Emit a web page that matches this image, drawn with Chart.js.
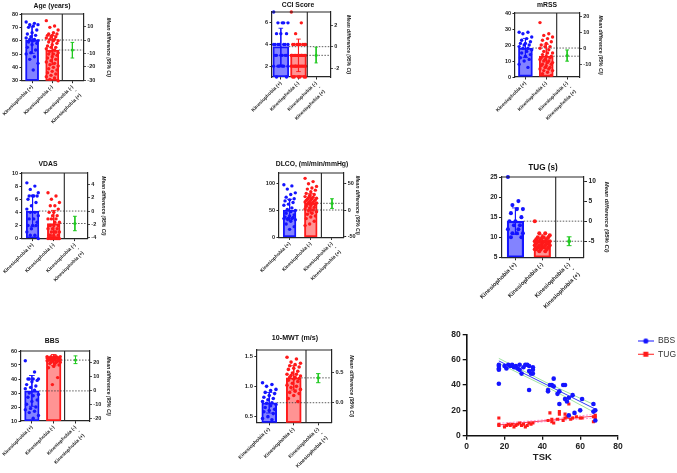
<!DOCTYPE html>
<html>
<head>
<meta charset="utf-8">
<script src="https://cdn.jsdelivr.net/npm/chart.js@4.4.1/dist/chart.umd.min.js"></script>
<style>
  body { margin:0; width:677px; height:473px; overflow:hidden; background:#fff; position:relative;
         font-family:'Liberation Sans', Arial, sans-serif; }
  canvas { position:absolute; }
  .ttl { position:absolute; transform:translate(-50%,-50%); font-weight:bold; white-space:nowrap; color:#111;
         will-change:transform; }
</style>
</head>
<body>
<script>
// ---- data ----
const groupLabels = ['Kinesiophobia (+)', 'Kinesiophobia (-)', ['Kinesiophobia (-)', '-', 'Kinesiophobia (+)']];

// Age (years)
const agePos = [74,73,72,72,71,70,68,66,65,64,63,62,61,61,60,60,59,58,57,55,53,51,50,48,46,43,38];
const ageNeg = [75,71,70,68,66,65,65,64,64,63,63,62,61,61,60,60,59,58,57,56,55,55,54,53,52,51,50,50,49,48,47,46,45,44,43,42,41,40,39,38,37,36,35,34,33,32,31,30];
const ageMean = [60.5, 53];
const ageSD = [10, 11];
const ageDiff = [-7.5, -13.5, -1.8];   // estimate, lower, upper
const ageTicks = [30,40,50,60,70,80];
const ageDiffTicks = [10,0,-10,-20,-30];

// CCI Score
const cciPos = [7,6,6,6,6,5,5,5,4,4,4,4,4,4,4,3,3,3,3,3,3,2,2,2,2,2,2,1,1];
const cciNeg = [7,6,5,4,4,4,4,4,4,4,4,3,3,3,3,3,3,3,3,3,3,3,3,3,2,2,2,2,2,2,2,2,2,2,2,2,1,1,1,1,1,1];
const cciMean = [3.8, 3.0];
const cciSD = [1.7, 1.5];
const cciDiff = [-0.8, -1.5, -0.05];
const cciTicks = [2,4,6];
const cciDiffTicks = [2,0,-2];

// mRSS
const mrssPos = [28,28,27,25,24,23,22,21,21,20,20,19,18,18,17,16,15,14,13,12,11,10,8,6];
const mrssNeg = [34,27,26,25,24,23,22,21,20,19,19,18,17,16,15,15,14,13,13,12,12,11,11,10,10,9,9,8,8,7,7,6,6,5,5,4,4,3,2,1];
const mrssMean = [18.1, 13];
const mrssSD = [6, 7.5];
const mrssDiff = [-4.7, -8.2, -1.2];
const mrssTicks = [0,10,20,30,40];
const mrssDiffTicks = [20,10,0,-10];

// VDAS
const vdasPos = [8.5,8,7.5,7,6.5,6.5,6.5,6.5,6,5.5,5,4.5,4,4,3.5,3,3,2.5,2,2,2,1.5,1,0.5,0.5,0];
const vdasNeg = [7,6.5,6,5.5,5,5,4.5,4,4,3.5,3.5,3,3,3,2.5,2.5,2,2,2,2,1.5,1.5,1.5,1,1,1,1,0.5,0.5,0.5,0.5,0,0,0,0,0,0,0,0,0];
const vdasMean = [4.2, 2.3];
const vdasSD = [2.4, 2];
const vdasDiff = [-1.9, -3.0, -0.8];
const vdasTicks = [0,2,4,6,8,10];
const vdasDiffTicks = [4,2,0,-2,-4];

// DLCO
const dlcoPos = [98,96,90,83,80,75,72,70,68,65,62,60,55,52,50,48,45,42,40,38,37,36,35,35,34,33,30,25,20,15];
const dlcoNeg = [110,104,100,95,92,90,88,85,82,80,78,76,75,74,73,72,71,70,70,69,68,67,66,65,65,64,63,62,61,60,58,56,55,53,51,50,48,45,43,40,38,35,30,25,22];
const dlcoMean = [51, 63.5];
const dlcoSD = [20, 18];
const dlcoDiff = [12, 3, 21];
const dlcoTicks = [0,50,100];
const dlcoDiffTicks = [50,0,-50];

// TUG (s)
const tugPos = [25,19,18,17,17,16,15,14,14,13,13,12,12,11,11,11,10,10];
const tugNeg = [14,11,11,10.5,10,10,10,10,9.5,9.5,9.5,9,9,9,9,9,9,8.5,8.5,8.5,8.5,8,8,8,8,8,7.5,7.5,7.5,7.5,7,7,7,7,6.5,6.5];
const tugMean = [14, 9];
const tugSD = [3.3, 1.6];
const tugDiff = [-5, -6.1, -3.9];
const tugTicks = [5,10,15,20,25];
const tugDiffTicks = [10,5,0,-5];

// BBS
const bbsPos = [53,45,40,40,40,40,39,38,36,35,34,33,32,30,29,28,27,25,24,22,20,19,18,17,16,14,12];
const bbsNeg = [56,56,56,56,56,55,55,55,55,55,55,55,55,54,54,54,54,54,54,54,53,53,53,52,52,52,51,51,50,49,48,41,36];
const bbsMean = [31.5, 53.5];
const bbsSD = [11, 4];
const bbsDiff = [22, 19.5, 25];
const bbsTicks = [10,20,30,40,50,60];
const bbsDiffTicks = [20,10,0,-10,-20];

// 10-MWT (m/s)
const mwtPos = [1.06,1.03,1.0,0.95,0.93,0.9,0.88,0.85,0.82,0.8,0.78,0.75,0.73,0.72,0.7,0.68,0.65,0.62,0.6,0.58,0.55,0.5,0.47,0.45];
const mwtNeg = [1.48,1.45,1.4,1.38,1.36,1.34,1.32,1.3,1.28,1.25,1.22,1.2,1.2,1.18,1.17,1.15,1.15,1.13,1.12,1.1,1.08,1.05,1.02,1.0,0.98,0.95,0.92,0.9,0.88,0.85,0.8,0.75];
const mwtMean = [0.73, 1.14];
const mwtSD = [0.17, 0.2];
const mwtDiff = [0.41, 0.33, 0.48];
const mwtTicks = [0.5,1.0,1.5];
const mwtDiffTicks = [0.5,0.0];

// TSK correlation
const tskBBSx = [17,17,17,17,17,20,21,22,23,24,25,26,27,28,28,29,30,31,32,33,33,33,34,35,35,35,43,43,44,45,46,46,48,49,49,51,52,52,53,54,54,56,57,60,61,67,67,68,68];
const tskBBSy = [56,55,53,52,41,55,53,56,55,56,54,55,53,52,56,49,54,56,56,55,51,36,49,54,52,49,36,35,40,40,45,39,33,35,25,40,40,29,27,30,16,32,18,20,29,25,19,20,12];
const tskTUGx = [17,17,17,20,21,22,23,24,25,26,27,28,29,30,31,32,33,34,35,43,44,45,45,46,48,49,49,51,52,52,53,54,55,56,58,60,61,67,67,68,68];
const tskTUGy = [14,9,8,7,8,9,8,9,7,8,9,10,8,9,7,8,10,9,10,12,18,13,11,10,13,17,19,12,14,17,15,25,13,14,15,14,14,11,15,16,14];
const fitX = [17, 42, 68];
const bbsFit = [59, 40.4, 21];
const bbsBandHi = [61, 42, 24];
const bbsBandLo = [57, 38.8, 18];
const tugFit = [8.5, 11.9, 15.5];
const tugBandHi = [9.8, 12.6, 17];
const tugBandLo = [7.2, 11.2, 14];
const scatterTicks = [0,20,40,60,80];

// ---- styling / layout ----
Chart.defaults.font.family = "'Liberation Sans', Arial, sans-serif";
Chart.defaults.animation = false;
const BLUE = '#1414ff', RED = '#ff1a1a', GREEN = '#22c922', AXIS = '#262626';
const BLUE_FILL = 'rgba(30,30,255,0.55)', RED_FILL = 'rgba(255,40,40,0.5)';

// box = frame [left, top, right, bottom], div = x of the divider, bw = bar width / category width
const panels = [
  {title:'Age (years)', box:[21.7,14,83,80.7], div:62, bw:0.65, tx:52, ty:5, y2W:28, k:1,
   pos:agePos, neg:ageNeg, mean:ageMean, sd:ageSD, diff:ageDiff, ticks:ageTicks, dticks:ageDiffTicks, range:[30,80], dec:0},
  {title:'CCI Score', box:[271.7,11.7,330,76.7], div:307, bw:0.9, tx:298, ty:4, y2W:21, k:1,
   pos:cciPos, neg:cciNeg, mean:cciMean, sd:cciSD, diff:cciDiff, ticks:cciTicks, dticks:cciDiffTicks, range:[1,7], dec:0},
  {title:'mRSS', box:[515,13.3,579.3,77.3], div:556.7, bw:0.67, tx:547, ty:4, y2W:24, k:1,
   pos:mrssPos, neg:mrssNeg, mean:mrssMean, sd:mrssSD, diff:mrssDiff, ticks:mrssTicks, dticks:mrssDiffTicks, range:[0,40], dec:0},
  {title:'VDAS', box:[21.7,172.7,87,238.3], div:64, bw:0.6, tx:48, ty:163, y2W:19, k:1,
   pos:vdasPos, neg:vdasNeg, mean:vdasMean, sd:vdasSD, diff:vdasDiff, ticks:vdasTicks, dticks:vdasDiffTicks, range:[0,10], dec:0},
  {title:'DLCO, (ml/min/mmHg)', box:[279.3,173.3,344,237.7], div:321.7, bw:0.6, tx:312, ty:163, y2W:16, k:1,
   pos:dlcoPos, neg:dlcoNeg, mean:dlcoMean, sd:dlcoSD, diff:dlcoDiff, ticks:dlcoTicks, dticks:dlcoDiffTicks, range:[0,120], dec:0},
  {title:'TUG (s)', box:[502.3,176.7,584.3,257], div:556, bw:0.62, tx:543, ty:167, y2W:26, k:1.2,
   pos:tugPos, neg:tugNeg, mean:tugMean, sd:tugSD, diff:tugDiff, ticks:tugTicks, dticks:tugDiffTicks, range:[5,25], dec:0},
  {title:'BBS', box:[20.7,351,89,421], div:64.3, bw:0.67, tx:52, ty:340, y2W:22, k:1,
   pos:bbsPos, neg:bbsNeg, mean:bbsMean, sd:bbsSD, diff:bbsDiff, ticks:bbsTicks, dticks:bbsDiffTicks, range:[10,60], dec:0},
  {title:'10-MWT (m/s)', box:[256.7,350,331,422.7], div:305.7, bw:0.61, tx:295, ty:338, y2W:24, k:1.05,
   pos:mwtPos, neg:mwtNeg, mean:mwtMean, sd:mwtSD, diff:mwtDiff, ticks:mwtTicks, dticks:mwtDiffTicks, range:[0.4,1.6], dec:1},
];

// spread points sideways inside the bar, like a Prism scatter
function spread(vals, cx, half) {
  return vals.map((v, i) => ({x: cx + (((i * 7) % 11) - 5) / 5 * half, y: v}));
}
function errBar(cx, lo, hi, cap) {
  return [{x:cx-cap,y:hi},{x:cx+cap,y:hi},{x:cx,y:null},
          {x:cx,y:hi},{x:cx,y:lo},{x:cx,y:null},
          {x:cx-cap,y:lo},{x:cx+cap,y:lo}];
}

// top border + divider between the two sub-panels
const framePlugin = {
  id: 'frame',
  afterDatasetsDraw(chart) {
    const {ctx, chartArea: a, scales} = chart;
    const xd = scales.x.getPixelForValue(1.5);
    ctx.save();
    ctx.strokeStyle = AXIS; ctx.lineWidth = 1.1;
    ctx.beginPath();
    ctx.moveTo(a.left, a.top); ctx.lineTo(a.right, a.top);
    ctx.moveTo(xd, a.top); ctx.lineTo(xd, a.bottom);
    ctx.stroke();
    ctx.restore();
  }
};

function addTitle(text, x, y, size) {
  const d = document.createElement('div');
  d.className = 'ttl';
  d.textContent = text;
  d.style.left = x + 'px'; d.style.top = y + 'px'; d.style.fontSize = size + 'px';
  document.body.appendChild(d);
}

function drawPanel(p) {
  const padL = 16, padT = 4, yW = 18, xH = Math.round(44 * p.k);
  const [L, T, R, B] = p.box;
  const W = Math.round(R - L + yW + p.y2W + padL);
  const H = Math.round(B - T + padT + xH);
  const cv = document.createElement('canvas');
  cv.width = W; cv.height = H;
  cv.style.left = (L - yW - padL) + 'px';
  cv.style.top = (T - padT) + 'px';
  document.body.appendChild(cv);
  addTitle(p.title, p.tx, p.ty, 6.8 * p.k);

  const [m1, m2] = p.mean;
  const [lo, hi] = p.range;
  const k = p.k;
  const tickFont = {size: 5.5 * k, weight: 'bold'};
  const fmt = v => (p.dec ? Number(v).toFixed(p.dec) : v);
  // x range chosen so that 1.5 falls on the divider
  const xMax = -0.5 + 2 * (R - L) / (p.div - L);
  const catPx = (p.div - L) / 2;
  const halfBar = p.bw / 2;

  new Chart(cv, {
    type: 'bar',
    data: {
      datasets: [
        {type:'bar', data:[{x:0, y:[lo, m1]}, {x:1, y:[lo, m2]}],
         backgroundColor:[BLUE_FILL, RED_FILL], borderColor:[BLUE, RED], borderWidth:1.3*k,
         borderSkipped:false, barThickness:catPx * p.bw, order:6},
        {type:'line', data:[{x:halfBar,y:m1},{x:xMax,y:m1}],
         borderColor:'#333', borderWidth:0.8, borderDash:[1.5,1.5], pointRadius:0, order:5},
        {type:'line', data:[{x:1+halfBar,y:m2},{x:xMax,y:m2}],
         borderColor:'#333', borderWidth:0.8, borderDash:[1.5,1.5], pointRadius:0, order:5},
        {type:'scatter', data:spread(p.pos, 0, halfBar * 0.9),
         backgroundColor:BLUE, borderWidth:0, pointRadius:1.7*k, clip:false, order:3},
        {type:'scatter', data:spread(p.neg, 1, halfBar * 0.9),
         backgroundColor:RED, borderWidth:0, pointRadius:1.7*k, clip:false, order:3},
        {type:'line', data:errBar(0, m1 - p.sd[0], m1 + p.sd[0], 0.13),
         borderColor:BLUE, borderWidth:0.9, pointRadius:0, order:2},
        {type:'line', data:errBar(1, m2 - p.sd[1], m2 + p.sd[1], 0.13),
         borderColor:RED, borderWidth:0.9, pointRadius:0, order:2},
        {type:'line', yAxisID:'y2', data:errBar(2, p.diff[1], p.diff[2], 0.09),
         borderColor:GREEN, borderWidth:1, pointRadius:0, order:1},
        {type:'scatter', yAxisID:'y2', data:[{x:2, y:p.diff[0]}],
         backgroundColor:GREEN, borderWidth:0, pointRadius:1.6*k, order:1},
      ]
    },
    options: {
      responsive:false,
      events:[],
      layout:{padding:{left:padL, top:padT, right:0, bottom:0}},
      plugins:{legend:{display:false}, tooltip:{enabled:false}},
      scales:{
        x:{type:'linear', position:'bottom', min:-0.5, max:xMax, offset:false,
           afterBuildTicks:s => { s.ticks = [0,1,2].map(v => ({value:v})); },
           grid:{display:true, drawOnChartArea:false, offset:false, tickLength:2.5*k, color:AXIS, lineWidth:1},
           border:{display:true, color:AXIS, width:1.2},
           ticks:{maxRotation:45, minRotation:45, autoSkip:false, padding:1, color:'#222',
                  font:{size:4.8*k, weight:'bold'}, callback:v => groupLabels[v]},
           afterFit:s => { s.height = H - padT - (B - T); s.paddingLeft = 0; s.paddingRight = 0; }},
        y:{type:'linear', position:'left', min:lo, max:hi,
           afterBuildTicks:s => { s.ticks = p.ticks.map(v => ({value:v})); },
           grid:{display:true, drawOnChartArea:false, tickLength:2.5*k, color:AXIS, lineWidth:1},
           border:{display:true, color:AXIS, width:1.2},
           ticks:{font:tickFont, color:'#222', padding:1.5, callback:fmt},
           afterFit:s => { s.width = yW; s.paddingTop = 0; s.paddingBottom = 0; }},
        y2:{type:'linear', position:'right', min:lo - m1, max:hi - m1,
            afterBuildTicks:s => { s.ticks = p.dticks.map(v => ({value:v})); },
            grid:{display:true, drawOnChartArea:false, tickLength:2.5*k, color:AXIS, lineWidth:1},
            border:{display:true, color:AXIS, width:1.2},
            ticks:{font:tickFont, color:'#222', padding:1.5, callback:fmt},
            title:{display:true, text:'Mean difference (95% CI)', color:'#222', padding:0,
                   font:{size:5*k, weight:'bold', style:'italic'}},
            afterFit:s => { s.width = W - padL - yW - (R - L); s.paddingTop = 0; s.paddingBottom = 0; }}
      }
    },
    plugins:[framePlugin]
  });
}

panels.forEach(drawPanel);

// ---- TSK correlation panel ----
function legendIcon(color, shape) {
  const c = document.createElement('canvas');
  c.width = 16; c.height = 7;
  const g = c.getContext('2d');
  g.strokeStyle = color; g.fillStyle = color; g.lineWidth = 1;
  g.beginPath(); g.moveTo(0, 3.5); g.lineTo(16, 3.5); g.stroke();
  g.beginPath();
  if (shape === 'circle') { g.arc(8, 3.5, 2.6, 0, Math.PI * 2); g.fill(); }
  else { g.fillRect(5.5, 1, 5, 5); }
  return c;
}
const legendShift = {
  id: 'legendShift',
  afterLayout(chart, args, opts) {
    const lg = chart.legend;
    if (!lg) return;
    lg.left += opts.dx; lg.right += opts.dx;
    lg.top += opts.dy; lg.bottom += opts.dy;
  }
};

const cv9 = document.createElement('canvas');
cv9.width = 256; cv9.height = 151;
cv9.style.left = '430px'; cv9.style.top = '322px';
document.body.appendChild(cv9);
const icons = [legendIcon(BLUE, 'circle'), legendIcon(RED, 'rect')];
const pts = (xs, ys) => xs.map((x, i) => ({x, y: ys[i]}));
const lineDs = (ys, color, w, dash) => ({type:'line', data:pts(fitX, ys), borderColor:color, borderWidth:w,
  borderDash:dash, pointRadius:0, showLine:true, fill:false, order:2});

new Chart(cv9, {
  type:'scatter',
  data:{
    datasets:[
      {label:'BBS', data:pts(tskBBSx, tskBBSy), backgroundColor:BLUE, borderWidth:0, pointRadius:2.3, pointStyle:'circle', order:1},
      {label:'TUG', data:pts(tskTUGx, tskTUGy), backgroundColor:RED, borderWidth:0, pointRadius:2.2, pointStyle:'rect', order:1},
      lineDs(bbsFit, '#2f3df2', 1, []),
      lineDs(bbsBandHi, '#86dc86', 0.8, []),
      lineDs(bbsBandLo, '#86dc86', 0.8, []),
      lineDs(tugFit, '#ff3b5c', 1, []),
      lineDs(tugBandHi, '#ff7ad0', 0.8, [2,1.5]),
      lineDs(tugBandLo, '#ff7ad0', 0.8, [2,1.5]),
    ]
  },
  options:{
    responsive:false,
    events:[],
    layout:{padding:{top:12.3, bottom:10, left:0, right:15}},
    plugins:{
      tooltip:{enabled:false},
      legend:{display:true, position:'right', align:'start',
        labels:{usePointStyle:true, pointStyleWidth:16, padding:4.8, color:'#333', font:{size:8.5},
          generateLabels:chart => ['BBS','TUG'].map((t, i) => ({text:t, pointStyle:icons[i], fillStyle:'transparent',
            strokeStyle:'transparent', lineWidth:0, hidden:false, datasetIndex:i, fontColor:'#333'}))}},
      legendShift:{dx:15, dy:-2.4}
    },
    scales:{
      x:{type:'linear', min:0, max:80,
         afterBuildTicks:s => { s.ticks = scatterTicks.map(v => ({value:v})); },
         grid:{display:true, drawOnChartArea:false, tickLength:4, color:'#111', lineWidth:1.3},
         border:{display:true, color:'#111', width:1.6},
         ticks:{font:{size:8.5, weight:'bold'}, color:'#222', padding:2},
         title:{display:true, text:'TSK', color:'#222', padding:0, font:{size:9.5, weight:'bold'}},
         afterFit:s => { s.height = 151 - 10 - 113.7; s.paddingLeft = 0; s.paddingRight = 0; }},
      y:{type:'linear', min:0, max:80,
         afterBuildTicks:s => { s.ticks = scatterTicks.map(v => ({value:v})); },
         grid:{display:true, drawOnChartArea:false, tickLength:4, color:'#111', lineWidth:1.3},
         border:{display:true, color:'#111', width:1.6},
         ticks:{font:{size:8.5, weight:'bold'}, color:'#222', padding:2},
         afterFit:s => { s.width = 36.7; s.paddingTop = 0; s.paddingBottom = 0; }}
    }
  },
  plugins:[legendShift]
});
</script>
</body>
</html>
